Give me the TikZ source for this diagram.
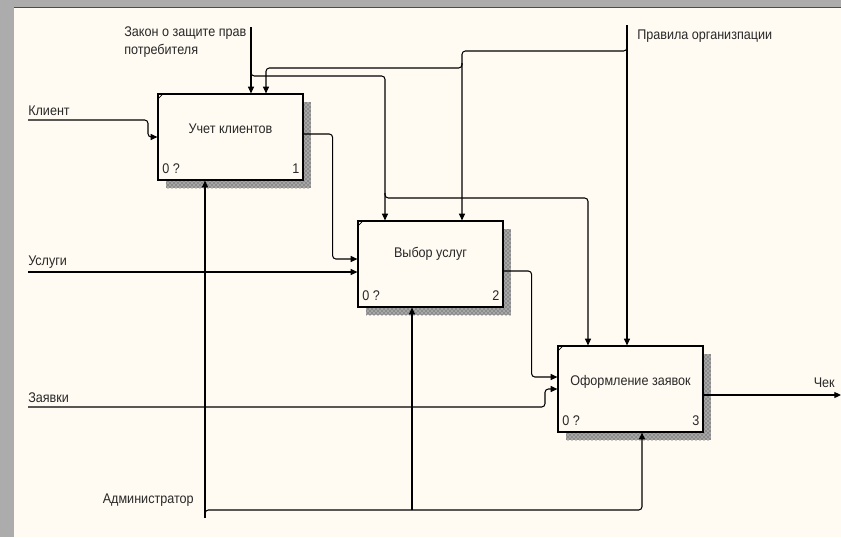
\documentclass[tikz,border=0pt]{standalone}
\usepackage{fontspec}
\setmainfont[FakeStretch=0.9]{Liberation Sans}
\usetikzlibrary{arrows.meta,patterns,shadows}
\definecolor{cream}{RGB}{255,251,242}
\definecolor{framegray}{RGB}{172,172,172}
\definecolor{ink}{RGB}{40,40,40}
\begin{document}
\begin{tikzpicture}[x=0.75pt,y=-0.75pt,
  box/.style={draw=black, line width=0.9pt, fill=cream, minimum width=108.75pt, minimum height=64.5pt, inner sep=0pt,
    general shadow={shadow xshift=6pt, shadow yshift=-6pt, fill=black!35, postaction={pattern=crosshatch dots, pattern color=black!80}}},
  lbl/.style={font=\fontsize{10.5}{14}\selectfont, text=ink, inner sep=0pt},
  flow/.style={draw=black, line width=0.8pt, rounded corners=2.5pt},
  arr/.style={flow, -{Triangle[length=5pt,width=4.5pt]}},
  tick/.style={draw=black, line width=0.5pt}
]
\useasboundingbox (0,0) rectangle (841,537);
\fill[framegray] (0,0) rectangle (841,537);
\fill[cream] (14,8) rectangle (841,537);
\draw[black!70, line width=1pt] (14,7.5) -- (841,7.5);

% boxes
\node[box] (b1) at (230.5,137) {};
\node[box] (b2) at (430.5,264) {};
\node[box] (b3) at (630.5,389) {};
\foreach \b in {b1,b2,b3}{
  \draw[tick] ([yshift=-4.5pt]\b.north west) -- ([xshift=4.5pt]\b.north west);
}
\node[lbl] (t1) at ([yshift=6.5pt]b1.center) {Учет клиентов};
\node[lbl] (t2) at ([yshift=7.5pt]b2.center) {Выбор услуг};
\node[lbl] (t3) at ([yshift=5.5pt]b3.center) {Оформление заявок};
\node[lbl, anchor=south west] (n1) at ([xshift=3.5pt,yshift=5pt]b1.south west) {0 ?};
\node[lbl, anchor=south west] (n2) at ([xshift=3.5pt,yshift=5pt]b2.south west) {0 ?};
\node[lbl, anchor=south west] (n3) at ([xshift=3.5pt,yshift=5pt]b3.south west) {0 ?};
\node[lbl, anchor=south east] (m1) at ([xshift=-3pt,yshift=5pt]b1.south east) {1};
\node[lbl, anchor=south east] (m2) at ([xshift=-3pt,yshift=5pt]b2.south east) {2};
\node[lbl, anchor=south east] (m3) at ([xshift=-3pt,yshift=5pt]b3.south east) {3};

% labels
\node[lbl, anchor=west] (lk) at (28,111) {Клиент};
\node[lbl, anchor=west, align=left] (lz) at (124,42) {Закон о защите прав\\потребителя};
\node[lbl, anchor=west] (lp) at (637,36) {Правила организпации};
\node[lbl, anchor=west] (lu) at (28,262) {Услуги};
\node[lbl, anchor=west] (lza) at (28,398) {Заявки};
\node[lbl, anchor=east] (la) at (194,500) {Администратор};
\node[lbl, anchor=east] (lc) at (835,383) {Чек};

% free ends and junctions
\coordinate (kin) at (28,120);
\coordinate (uin) at (28,272);
\coordinate (zin) at (28,407);
\coordinate (zakon) at (251,27);
\coordinate (prav) at (627,25);
\coordinate (adm) at (205,518);
\coordinate (chek) at (841,395);
\coordinate (zj1) at (251,72);
\coordinate (zc) at (385,76);
\coordinate (zj2) at (385,193);
\coordinate (zd) at (588,198);
\coordinate (pj1) at (627,45);
\coordinate (pc) at (462,51);
\coordinate (pj2) at (462,63);
\coordinate (pd) at (266,68);
\coordinate (aj) at (205,515);
\coordinate (ac) at (642,510);
\coordinate (aj2) at (412,510);

% inputs
\draw[arr] (kin) -- ++(120,0) |- (b1.west);
\draw[arr] ([yshift=2.25pt]b1.east) -- ++(29,0) |- ([yshift=3.75pt]b2.west);
\draw[arr] (uin) -- (uin -| b2.west);
\draw[arr] ([yshift=-5.25pt]b2.east) -- ++(28,0) |- ([yshift=9pt]b3.west);
\draw[arr] (zin) -- ++(517,0) |- (b3.west);
\draw[arr] ([yshift=-4.5pt]b3.east) -- (chek);

% controls
\draw[arr] (zakon) -- (zakon |- b1.north);
\draw[arr] (zj1) |- (zc) -- (zc |- b2.north);
\draw[arr] (zj2) |- (zd) -- (zd |- b3.north);
\draw[arr] (prav) -- (prav |- b3.north);
\draw[arr] (pj1) |- (pc) -- (pc |- b2.north);
\draw[arr] (pj2) |- (pd) -- (pd |- b1.north);

% mechanisms
\draw[arr] (adm) -- (adm |- b1.south);
\draw[arr] (aj) |- (ac) -- (ac |- b3.south);
\draw[arr] (aj2) -- (aj2 |- b2.south);
\end{tikzpicture}
\end{document}
